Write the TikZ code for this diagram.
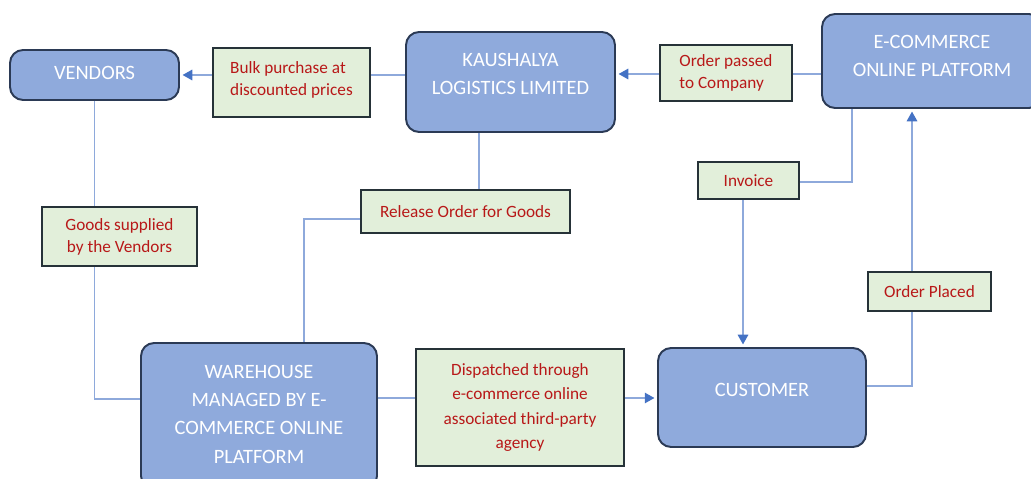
\documentclass[tikz,border=0pt]{standalone}
\usepackage{fontspec}
\setmainfont{Carlito}
\usetikzlibrary{arrows.meta}

\definecolor{boxblue}{HTML}{8FAADC}
\definecolor{boxedge}{HTML}{2B3A55}
\definecolor{notegreen}{HTML}{E2EFDA}
\definecolor{noteedge}{HTML}{263238}
\definecolor{notered}{HTML}{B81818}
\definecolor{linkblue}{HTML}{8EA9DB}
\definecolor{tipblue}{HTML}{4472C4}

\tikzset{
  party/.style={draw=boxedge, line width=1.1pt, fill=boxblue, rounded corners=0.26cm,
    text=white, font=\fontsize{11.6}{16}\selectfont, align=center, inner sep=0pt,
    text depth=9pt},
  note/.style={draw=noteedge, line width=0.9pt, fill=notegreen, text=notered,
    font=\fontsize{9.8}{12.5}\selectfont, align=center, inner sep=0pt},
  link/.style={linkblue, line width=0.7pt},
  tip/.style={-{Triangle[length=5.5pt,width=6pt,color=tipblue]}, shorten >=1.5pt}
}

\begin{document}
\begin{tikzpicture}[x=0.02cm, y=-0.02cm]
  \useasboundingbox (0,0) rectangle (1031,479);

  % parties
  \node[party, minimum width=3.38cm, minimum height=1cm, text depth=2pt] (vendors) at (94.5,75)
    {VENDORS};
  \node[party, minimum width=4.18cm, minimum height=2cm] (kaushalya) at (510.5,82)
    {KAUSHALYA\\LOGISTICS LIMITED};
  \node[party, minimum width=4.4cm, minimum height=1.88cm, text depth=6pt] (ecom) at (932,61)
    {E-COMMERCE\\ONLINE PLATFORM};
  \node[party, minimum width=4.16cm, minimum height=1.98cm] (customer) at (762,397.5) {CUSTOMER};
  \node[party, minimum width=4.72cm, minimum height=2.92cm, text depth=2pt] (warehouse) at (259,416)
    {WAREHOUSE\\MANAGED BY E-\\COMMERCE ONLINE\\PLATFORM};

  % bends
  \coordinate (vendorsbend) at (94.5,399);
  \coordinate (releasedrop) at (479,219);
  \coordinate (releasebend) at (304,219);
  \coordinate (passline) at (700,74);
  \coordinate (displine) at (400,398);
  \coordinate (invoicebend) at (852,182);
  \coordinate (invoicedrop) at (743,182);
  \coordinate (placedbend) at (912,386);

  % flows
  \draw[link, tip] (kaushalya.west |- vendors) -- (vendors.east);
  \draw[link, tip] (ecom.west |- passline) -- (kaushalya.east |- passline);
  \draw[link] (vendors.south) -- (vendorsbend) -- (vendorsbend -| warehouse.west);
  \draw[link] (kaushalya.south -| releasedrop) -- (releasedrop) -- (releasebend)
    -- (releasebend |- warehouse.north);
  \draw[link, tip] (warehouse.east |- displine) -- (customer.west |- displine);
  \draw[link, tip] (ecom.south -| invoicebend) -- (invoicebend) -- (invoicedrop)
    -- (invoicedrop |- customer.north);
  \draw[link, tip] (customer.east |- placedbend) -- (placedbend) -- (placedbend |- ecom.south);

  % labels
  \node[note, minimum width=3.14cm, minimum height=1.38cm, align=left, text depth=4pt] (bulk)
    at (291.5,82.5) {Bulk purchase at\\discounted prices};
  \node[note, minimum width=2.64cm, minimum height=1.12cm, align=left] (passed) at (726,73)
    {Order passed\\to Company};
  \node[note, minimum width=2.02cm, minimum height=0.74cm] (invoice) at (748.5,180.5) {Invoice};
  \node[note, minimum width=4.18cm, minimum height=0.86cm] (release) at (465.5,211.5)
    {Release Order for Goods};
  \node[note, minimum width=3.1cm, minimum height=1.18cm] (goods) at (119.5,236.5)
    {Goods supplied\\by the Vendors};
  \node[note, minimum width=4.16cm, minimum height=2.34cm, font=\fontsize{9.8}{14}\selectfont]
    (dispatch) at (520,407.5)
    {Dispatched through\\e-commerce online\\associated third-party\\agency};
  \node[note, minimum width=2.46cm, minimum height=0.78cm] (placed) at (929.5,291.5) {Order Placed};
\end{tikzpicture}
\end{document}
